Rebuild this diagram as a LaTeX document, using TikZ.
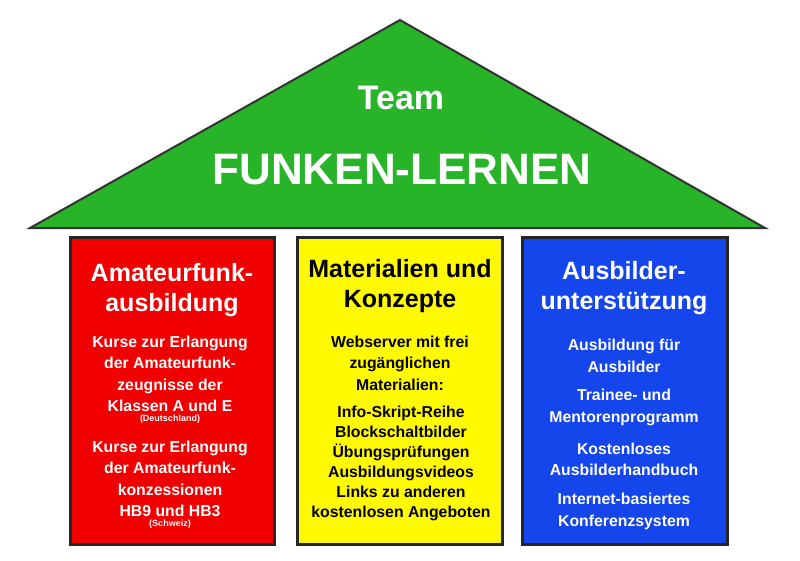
\documentclass[tikz,border=0pt]{standalone}
\usepackage{fontspec}
\setmainfont{Liberation Sans}
\usetikzlibrary{positioning}
\tikzset{
  pillar/.style={draw=black!85, line width=3pt},
  head/.style={align=center, font=\bfseries\fontsize{25}{30}\selectfont},
  body/.style={align=center, font=\bfseries\fontsize{15.8}{21.5}\selectfont},
  tiny/.style={font=\bfseries\fontsize{9}{10}\selectfont}
}
\begin{document}
\begin{tikzpicture}[x=1pt,y=-1pt]
\definecolor{roof}{RGB}{40,180,40}
\definecolor{pred}{RGB}{240,0,0}
\definecolor{pyel}{RGB}{255,250,0}
\definecolor{pblu}{RGB}{20,70,235}
\useasboundingbox[fill=white] (0,0) rectangle (800,560);
% roof
\draw [fill=roof, draw=black!80, line width=2pt] (30,228)--(400,20)--(765,228)--cycle;
\node (team) at (401,98) [text=white, font=\bfseries\fontsize{34}{38}\selectfont]{Team};
\node (name) at (402,170) [text=white, font=\bfseries\fontsize{44}{48}\selectfont]{FUNKEN-LERNEN};
% pillars
\draw [pillar, fill=pred] (70,237) rectangle (274,544);
\draw [pillar, fill=pyel] (297,237) rectangle (502,544);
\draw [pillar, fill=pblu] (522,237) rectangle (727,544);
% red
\node (rh) at (172,290) [head, text=white]{Amateurfunk-\\ausbildung};
\node (rb1) at (170,374) [body, text=white]{Kurse zur Erlangung\\der Amateurfunk-\\zeugnisse der\\Klassen A und E};
\node (rs1) [tiny, text=white, below=-4pt of rb1]{(Deutschland)};
\node (rb2) at (170,479) [body, text=white]{Kurse zur Erlangung\\der Amateurfunk-\\konzessionen\\HB9 und HB3};
\node (rs2) [tiny, text=white, below=-4pt of rb2]{(Schweiz)};
% yellow
\node (yh) at (400,286) [head]{Materialien und\\Konzepte};
\node (yb1) at (400,363) [body]{Webserver mit frei\\zugänglichen\\Materialien:};
\node (yb2) at (401,463) [body, font=\bfseries\fontsize{15.8}{20}\selectfont]{Info-Skript-Reihe\\Blockschaltbilder\\Übungsprüfungen\\Ausbildungsvideos\\Links zu anderen\\kostenlosen Angeboten};
% blue
\node (bh) at (624,288) [head, text=white]{Ausbilder-\\unterstützung};
\foreach \t [count=\i] in {{Ausbildung für\\Ausbilder},{Trainee- und\\Mentorenprogramm},{Kostenloses\\Ausbilderhandbuch},{Internet-basiertes\\Konferenzsystem}}
  \node (bb\i) at (624,304+51.8*\i) [body, text=white]{\t};
\end{tikzpicture}
\end{document}
